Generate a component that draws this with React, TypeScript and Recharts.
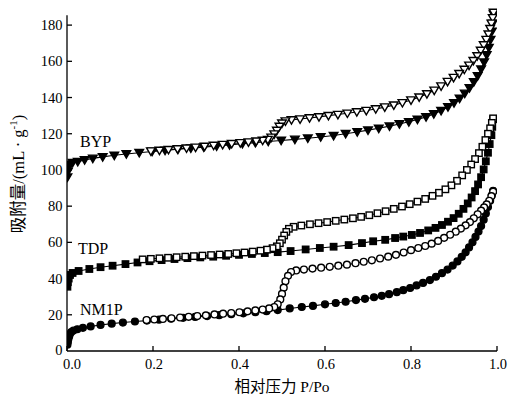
import React from 'react';
import { LineChart, Line, XAxis, YAxis, ReferenceDot, ReferenceLine } from 'recharts';

// [P/Po, adsorbed volume]
const bypAds: number[][] = [
  [0.001, 96], [0.002, 99], [0.004, 101.5], [0.007, 103], [0.013, 104], [0.025, 104.6], [0.041, 105.5],
  [0.06, 106.4], [0.083, 107.2], [0.11, 108.1], [0.138, 108.8], [0.168, 109.5], [0.198, 110.2],
  [0.228, 110.8], [0.258, 111.4], [0.288, 112], [0.318, 112.6], [0.348, 113.2], [0.378, 113.8],
  [0.408, 114.5], [0.438, 115.1], [0.468, 115.7], [0.498, 116.3], [0.53, 116.9], [0.56, 117.5],
  [0.59, 118.2], [0.62, 119], [0.648, 120], [0.675, 121], [0.7, 122], [0.725, 123], [0.75, 124.2],
  [0.773, 125.4], [0.795, 126.6], [0.815, 127.9], [0.835, 129.3], [0.853, 130.9], [0.87, 132.7],
  [0.886, 134.8], [0.9, 137], [0.913, 139.5], [0.925, 142.3], [0.936, 145.3], [0.946, 148.6],
  [0.955, 152], [0.963, 155.7], [0.97, 159.5], [0.976, 163.5], [0.981, 167.5], [0.985, 172],
  [0.988, 176.5], [0.99, 181], [0.992, 186],
];
const bypDes: number[][] = [
  [0.992, 187], [0.99, 184], [0.987, 181], [0.984, 178], [0.98, 175], [0.975, 172], [0.969, 169],
  [0.962, 166], [0.954, 163], [0.945, 160.3], [0.935, 157.8], [0.924, 155.5], [0.912, 153.2],
  [0.899, 151], [0.885, 148.8], [0.87, 146.3], [0.854, 144], [0.837, 142], [0.819, 140.2],
  [0.8, 138.6], [0.78, 137.1], [0.76, 135.8], [0.739, 134.7], [0.718, 133.7], [0.696, 132.8],
  [0.674, 132], [0.652, 131.3], [0.63, 130.6], [0.608, 130], [0.586, 129.3], [0.564, 128.7],
  [0.542, 128.1], [0.522, 127.6], [0.508, 127], [0.5, 125.8], [0.494, 124], [0.488, 121.8],
  [0.482, 119.8], [0.475, 118], [0.467, 116.8], [0.455, 116.3], [0.44, 115.9], [0.422, 115.4],
  [0.403, 115], [0.383, 114.5], [0.362, 114], [0.341, 113.5], [0.32, 113], [0.299, 112.5],
  [0.278, 112], [0.257, 111.6], [0.236, 111.2], [0.215, 110.8], [0.195, 110.4],
];
const tdpAds: number[][] = [
  [0.001, 35.5], [0.002, 38], [0.004, 40], [0.007, 42], [0.013, 43.1], [0.027, 44.2], [0.052, 45.3],
  [0.078, 46.3], [0.106, 47.1], [0.136, 48], [0.164, 48.9], [0.192, 49.6], [0.22, 50.2],
  [0.25, 50.8], [0.28, 51.3], [0.31, 51.7], [0.34, 52.1], [0.37, 52.6], [0.4, 53.1], [0.43, 53.6],
  [0.46, 54.1], [0.49, 54.6], [0.52, 55.2], [0.555, 56.1], [0.588, 56.9], [0.62, 57.6],
  [0.655, 58.5], [0.686, 59.6], [0.712, 60.6], [0.74, 61.4], [0.763, 62.4], [0.782, 63.2],
  [0.802, 64.1], [0.821, 65.2], [0.84, 66.6], [0.857, 68], [0.872, 69.6], [0.886, 71.4],
  [0.899, 73.4], [0.911, 75.8], [0.922, 78.5], [0.932, 81.5], [0.941, 84.8], [0.949, 88.3],
  [0.956, 92], [0.963, 96], [0.969, 100.3], [0.974, 104.8], [0.979, 109.5], [0.983, 114.3],
  [0.987, 119.2], [0.989, 123.8], [0.991, 128],
];
const tdpDes: number[][] = [
  [0.991, 128.5], [0.988, 126], [0.984, 123], [0.979, 120], [0.973, 116.5], [0.966, 112.8],
  [0.958, 109.3], [0.949, 106], [0.94, 103], [0.93, 100], [0.919, 97], [0.907, 94], [0.894, 91.5],
  [0.88, 89.3], [0.865, 87.4], [0.85, 85.7], [0.833, 84], [0.815, 82.5], [0.797, 81.1],
  [0.779, 79.8], [0.76, 78.5], [0.741, 77.2], [0.722, 76.1], [0.703, 75], [0.684, 74.1],
  [0.665, 73.3], [0.645, 72.6], [0.625, 71.9], [0.605, 71.2], [0.585, 70.6], [0.565, 70],
  [0.545, 69.3], [0.527, 68.6], [0.516, 67.5], [0.51, 65.8], [0.505, 63.8], [0.5, 61.5],
  [0.495, 59.5], [0.488, 57.8], [0.478, 56.8], [0.465, 56], [0.45, 55.4], [0.432, 54.9],
  [0.413, 54.4], [0.394, 54], [0.375, 53.6], [0.355, 53.3], [0.335, 53], [0.315, 52.7],
  [0.295, 52.4], [0.275, 52.1], [0.255, 51.8], [0.235, 51.5], [0.215, 51.2], [0.195, 50.9],
  [0.176, 50.6],
];
const nm1pAds: number[][] = [
  [0.001, 3.5], [0.002, 5], [0.003, 6.5], [0.005, 8], [0.007, 9.5], [0.01, 10.5], [0.015, 11.3],
  [0.024, 12], [0.037, 12.8], [0.055, 13.6], [0.078, 14.4], [0.104, 15.1], [0.13, 15.7],
  [0.158, 16.3], [0.186, 16.8], [0.214, 17.3], [0.242, 17.8], [0.27, 18.3], [0.298, 18.8],
  [0.326, 19.3], [0.354, 19.8], [0.382, 20.3], [0.41, 20.8], [0.438, 21.4], [0.464, 22],
  [0.49, 22.6], [0.518, 23.5], [0.546, 24.3], [0.572, 24.9], [0.6, 25.8], [0.625, 26.5],
  [0.648, 27.2], [0.672, 28.1], [0.693, 28.8], [0.714, 29.7], [0.732, 30.5], [0.749, 31.4],
  [0.767, 32.5], [0.782, 33.6], [0.798, 34.8], [0.813, 36.2], [0.828, 37.6], [0.844, 39.2],
  [0.858, 41], [0.872, 43], [0.885, 45], [0.897, 47.2], [0.908, 49.5], [0.918, 52],
  [0.927, 54.5], [0.935, 57.2], [0.943, 60], [0.95, 63], [0.957, 66], [0.963, 69], [0.969, 72.5],
  [0.974, 76], [0.979, 79.5], [0.984, 83], [0.988, 86], [0.991, 88.5],
];
const nm1pDes: number[][] = [
  [0.991, 88], [0.987, 85.5], [0.982, 83], [0.976, 81], [0.97, 79.3], [0.963, 77.5], [0.955, 75.5],
  [0.946, 73.3], [0.937, 71.2], [0.927, 69.4], [0.916, 67.6], [0.904, 65.9], [0.891, 64.2],
  [0.877, 62.5], [0.863, 60.8], [0.848, 59.3], [0.833, 58], [0.817, 56.9], [0.8, 55.7],
  [0.783, 54.4], [0.765, 53.1], [0.747, 52.1], [0.728, 51.1], [0.709, 50.1], [0.69, 49.3],
  [0.671, 48.5], [0.651, 47.7], [0.631, 47.1], [0.611, 46.5], [0.591, 46], [0.571, 45.5],
  [0.551, 45], [0.533, 44.5], [0.521, 43.6], [0.514, 41.5], [0.508, 38.5], [0.504, 35],
  [0.5, 31.5], [0.496, 28.5], [0.49, 25.8], [0.482, 24.3], [0.47, 23.5], [0.455, 22.9],
  [0.438, 22.4], [0.42, 21.9], [0.401, 21.4], [0.382, 21], [0.363, 20.6], [0.343, 20.2],
  [0.323, 19.7], [0.303, 19.3], [0.283, 18.9], [0.263, 18.5], [0.243, 18.1], [0.223, 17.7],
  [0.203, 17.4], [0.185, 17.1],
];

const xTicks = [0, 0.2, 0.4, 0.6, 0.8, 1.0];
const yTicks = [0, 20, 40, 60, 80, 100, 120, 140, 160, 180];
const xTickLabels = ['0.0', '0.2', '0.4', '0.6', '0.8', '1.0'];

const SERIF = "'Liberation Serif', 'Noto Sans CJK SC', serif";

const toRows = (arr: number[][]) => arr.map(([x, y]) => ({ x, y }));

type Shape = 'tri' | 'sq' | 'circ';
const makeDot = (shape: Shape, filled: boolean) => (props: any) => {
  const { cx, cy, index } = props;
  if (cx == null || cy == null) return <g key={`e-${index}`} />;
  const fill = filled ? '#000' : '#fff';
  const common = { fill, stroke: '#000', strokeWidth: 1.4 };
  if (shape === 'tri') {
    return (
      <polygon key={`d-${index}`} {...common}
        points={`${cx - 4.3},${cy - 3.2} ${cx + 4.3},${cy - 3.2} ${cx},${cy + 4.2}`} />
    );
  }
  if (shape === 'sq') {
    return <rect key={`d-${index}`} {...common} x={cx - 3.2} y={cy - 3.2} width={6.4} height={6.4} />;
  }
  return <circle key={`d-${index}`} {...common} cx={cx} cy={cy} r={3.4} />;
};

const XTick = (props: any) => {
  const { x, y, payload, index } = props;
  const shift = index === 0 ? 5 : 1;
  return (
    <g>
      <line x1={x} y1={y} x2={x} y2={y - 5} stroke="#000" strokeWidth={1.3} />
      <text x={x + shift} y={y + 18} textAnchor="middle" fontFamily={SERIF} fontSize={14.5} fill="#000">
        {xTickLabels[index] ?? String(payload.value)}
      </text>
    </g>
  );
};

const YTick = (props: any) => {
  const { x, y, payload } = props;
  return (
    <g>
      {payload.value !== 0 && (
        <line x1={x} y1={y} x2={x + 5} y2={y} stroke="#000" strokeWidth={1.3} />
      )}
      <text x={x - 4.5} y={y + 5 - (payload.value === 0 ? 1 : 0)} textAnchor="end" fontFamily={SERIF} fontSize={14.5} fill="#000">
        {String(payload.value)}
      </text>
    </g>
  );
};

const seriesLabel = (text: string) => (props: any) => {
  const vb = props.viewBox || {};
  return (
    <text x={vb.x} y={vb.y} fontFamily={SERIF} fontSize={16} fill="#000">
      {text}
    </text>
  );
};

const series: { data: number[][]; shape: Shape; filled: boolean; name: string }[] = [
  { data: bypAds, shape: 'tri', filled: true, name: 'BYP-ads' },
  { data: bypDes, shape: 'tri', filled: false, name: 'BYP-des' },
  { data: tdpAds, shape: 'sq', filled: true, name: 'TDP-ads' },
  { data: tdpDes, shape: 'sq', filled: false, name: 'TDP-des' },
  { data: nm1pAds, shape: 'circ', filled: true, name: 'NM1P-ads' },
  { data: nm1pDes, shape: 'circ', filled: false, name: 'NM1P-des' },
];

export default function App() {
  return (
    <div style={{ position: 'absolute', left: 0, top: 0 }}>
      <LineChart width={509} height={397} margin={{ top: 7, right: 12, bottom: 16, left: 7 }}>
        <XAxis
          type="number"
          dataKey="x"
          domain={[0, 1]}
          ticks={xTicks}
          tick={(p: any) => <XTick {...p} />}
          tickLine={false}
          tickSize={0}
          tickMargin={0}
          axisLine={{ stroke: '#000', strokeWidth: 1.3 }}
          height={30}
          allowDataOverflow
          label={{
            content: (p: any) => {
              const vb = p.viewBox || {};
              return (
                <text x={vb.x + vb.width / 2} y={vb.y + 41} textAnchor="middle" fontFamily={SERIF} fontSize={15.5} fill="#000">
                  相对压力 P/Po
                </text>
              );
            },
          }}
        />
        <YAxis
          type="number"
          dataKey="y"
          domain={[0, 190]}
          ticks={yTicks}
          tick={(p: any) => <YTick {...p} />}
          tickLine={false}
          tickSize={0}
          tickMargin={0}
          axisLine={false}
          width={60}
          allowDataOverflow
          label={{
            content: () => (
              <text x={0} y={0} transform="translate(24,174) rotate(-90)" textAnchor="middle" fontFamily={SERIF} fontSize={16.5} fill="#000">
                吸附量/(mL · g<tspan dy={-7} fontSize={11}>-1</tspan><tspan dy={7}>)</tspan>
              </text>
            ),
          }}
        />
        <ReferenceLine segment={[{ x: 0, y: 0 }, { x: 0, y: 185.5 }]} stroke="#000" strokeWidth={1.3} />
        {series.map((s) => (
          <Line
            key={s.name}
            data={toRows(s.data)}
            dataKey="y"
            type="linear"
            stroke="#000"
            strokeWidth={1.1}
            dot={makeDot(s.shape, s.filled)}
            activeDot={false}
            isAnimationActive={false}
            legendType="none"
          />
        ))}
        <ReferenceDot x={0.0302} y={112.7} r={0} fill="none" stroke="none" label={{ content: seriesLabel('BYP') }} />
        <ReferenceDot x={0.0256} y={53.6} r={0} fill="none" stroke="none" label={{ content: seriesLabel('TDP') }} />
        <ReferenceDot x={0.0302} y={19.9} r={0} fill="none" stroke="none" label={{ content: seriesLabel('NM1P') }} />
      </LineChart>
    </div>
  );
}
